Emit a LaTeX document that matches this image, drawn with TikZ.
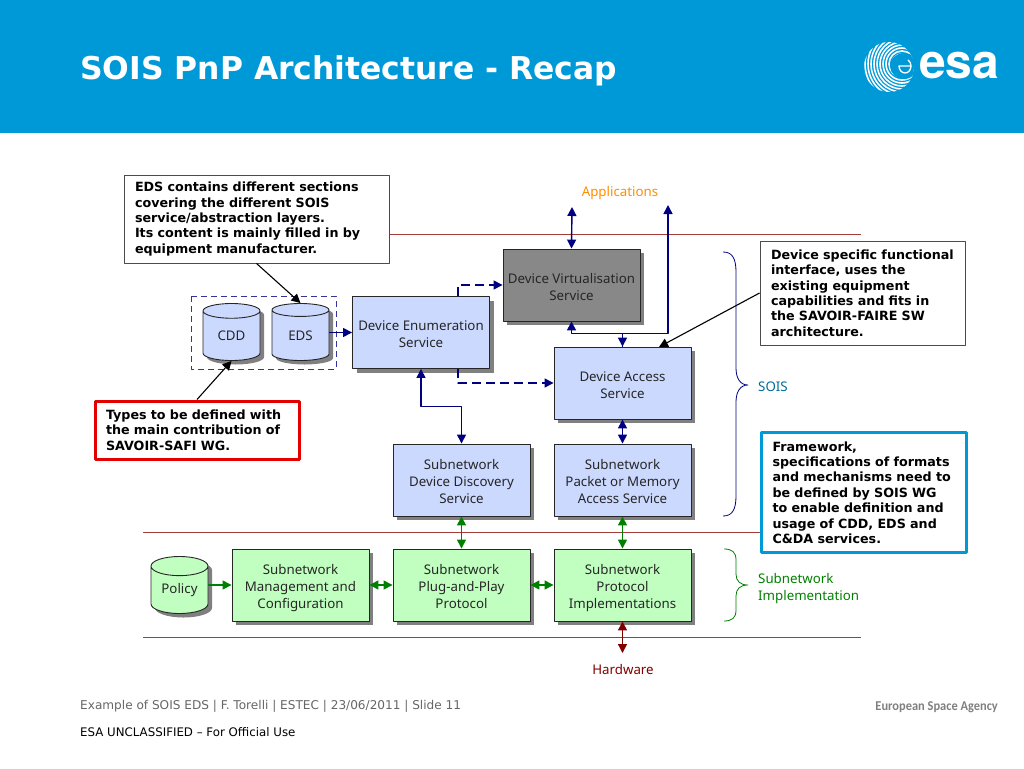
\documentclass[tikz,border=0pt]{standalone}
\usepackage{fontspec}
\setmainfont{DejaVu Sans}
\newfontfamily\boxfont{Noto Sans}
\newfontfamily\logofont{TeX Gyre Heros}
\newfontfamily\agencyfont{Carlito}
\usetikzlibrary{arrows.meta,shadows,shapes.geometric,calc}
\definecolor{esablue}{RGB}{0,153,216}
\definecolor{svcblue}{RGB}{204,217,255}
\definecolor{svcgreen}{RGB}{193,255,193}
\definecolor{svcgray}{RGB}{136,136,136}
\definecolor{linkblue}{RGB}{0,0,128}
\definecolor{linkgreen}{RGB}{0,128,0}
\definecolor{linkred}{RGB}{128,0,0}
\definecolor{layerline}{RGB}{165,60,60}
\tikzset{
  boxshadow/.style={drop shadow={shadow xshift=4pt,shadow yshift=-4pt,fill=black!50,opacity=1}},
  svc/.style={draw=black!85,line width=.9pt,boxshadow,minimum width=137pt,minimum height=72pt,
    align=center,inner sep=0pt,font=\boxfont\fontsize{13.3}{17}\selectfont,text=black!85},
  svctwo/.style={svc,execute at begin node={\rule[-3.5pt]{0pt}{37pt}}},
  svcthree/.style={svc,execute at begin node={\rule[-3.5pt]{0pt}{54pt}}},
  store/.style={cylinder,shape border rotate=90,aspect=.53,draw=black!85,line width=.9pt,boxshadow,
    anchor=shape center,minimum width=57pt,minimum height=57pt,inner sep=0pt,
    font=\boxfont\fontsize{13.3}{17}\selectfont,text=black!85},
  note/.style={draw=black!70,fill=white,line width=.9pt,align=left,inner xsep=11pt,inner ysep=0pt,
    font=\bfseries\fontsize{12.7}{15.4}\selectfont,text=black},
  layer/.style={layerline,line width=1pt},
  tag/.style={inner sep=0pt,font=\boxfont\fontsize{13.3}{17}\selectfont},
  link/.style={linkblue,line width=1.4pt,>={Triangle[length=9pt,width=9pt]}},
  linkdash/.style={link,dash pattern=on 9pt off 5pt},
  linkg/.style={link,linkgreen},
  linkr/.style={link,linkred},
  pointer/.style={-{Triangle[length=9pt,width=9pt]},line width=1.1pt}
}
\begin{document}
\begin{tikzpicture}[x=1pt,y=-1pt,line join=round]
	\useasboundingbox (0,0) rectangle (1024,768);
	%Header
	\fill[esablue] (0,0) rectangle (1024,133);
	\node[anchor=west,inner sep=0pt,text=white,font=\bfseries\fontsize{31.4}{36}\selectfont] (title) at (80,71) {SOIS PnP Architecture - Recap};
	%Logo
	\begin{scope}
		\clip (889,67) circle (25);
		\foreach \r in {4,7,...,43} \draw[white,line width=1.6pt] (902,64) circle (\r);
		\fill[esablue] (904,66) ellipse (14 and 13);
	\end{scope}
	\draw[white,line width=1.3pt] (911,66)--(899,66) arc (180:-60:6 and 7);
	\node[anchor=west,inner sep=0pt,text=white,font=\logofont\bfseries\fontsize{48}{48}\selectfont] (logo) at (919,66) {esa};
	%Layer lines
	\draw[layer] (389,234)--(861,234);
	\draw[layer] (143,532)--(861,532);
	\draw[layer] (143,637)--(861,637);
	%Dashed frame
	\draw[linkblue!80,dash pattern=on 6pt off 4pt,line width=.9pt] (191,296) rectangle (336,369);
	%Stores
	\node[store,fill=svcblue] (cdd) at (231.5,332) {CDD};
	\node[store,fill=svcblue] (eds) at (300.5,332) {EDS};
	\node[store,fill=svcgreen] (policy) at (179.5,585) {Policy};
	%Services
	\node[svctwo,fill=svcblue] (enum) at (421,332.5) {Device Enumeration\\Service};
	\node[svctwo,fill=svcgray] (virt) at (571.5,285) {Device Virtualisation\\Service};
	\node[svctwo,fill=svcblue] (access) at (622.5,383) {Device Access\\Service};
	\node[svcthree,fill=svcblue] (disc) at (461.5,480) {Subnetwork\\Device Discovery\\Service};
	\node[svcthree,fill=svcblue] (packet) at (622.5,480) {Subnetwork\\Packet or Memory\\Access Service};
	\node[svcthree,fill=svcgreen] (mgmt) at (300.5,585) {Subnetwork\\Management and\\Configuration};
	\node[svcthree,fill=svcgreen] (pnp) at (461.5,585) {Subnetwork\\Plug-and-Play\\Protocol};
	\node[svcthree,fill=svcgreen] (proto) at (622.5,585) {Subnetwork\\Protocol\\Implementations};
	%Labels
	\node[tag,text=orange!90!yellow] (apps) at (620,193) {Applications};
	\node[tag,text=linkred] (hw) at (623,670) {Hardware};
	\node[tag,anchor=west,text=black!30!esablue] (sois) at (758,387) {SOIS};
	\node[tag,anchor=west,align=left,text=linkgreen] (impl) at (758,589) {Subnetwork\\Implementation};
	%Notes
	\node[note,text width=243pt,minimum height=88pt] (edsnote) at (256.5,219) {EDS contains different sections\\covering the different SOIS\\service/abstraction layers.\\Its content is mainly filled in by\\equipment manufacturer.};
	\node[note,draw=red!90!black,line width=3pt,text width=182pt,minimum height=58pt] (typesnote) at (197,430) {Types to be defined with\\the main contribution of\\SAVOIR-SAFI WG.};
	\node[note,text width=183pt,minimum height=104pt] (devnote) at (862.5,293) {Device specific functional\\interface, uses the\\existing equipment\\capabilities and fits in\\the SAVOIR-FAIRE SW\\architecture.};
	\node[note,draw=esablue,line width=3pt,text width=183pt,minimum height=120pt] (fwnote) at (864,492.5) {Framework,\\specifications of formats\\and mechanisms need to\\be defined by SOIS WG\\to enable definition and\\usage of CDD, EDS and\\C\&DA services.};
	%Free ends
	\coordinate (appsin) at (572,207);
	\coordinate (appsout) at (668,205);
	\coordinate (hwend) at (622.5,653);
	\coordinate (devend) at (659,347);
	%Connectors
	\draw[pointer] (edsnote.south)--(eds.north);
	\draw[pointer] (typesnote.north)--(cdd.south);
	\draw[pointer] (devnote.west)--(devend);
	\draw[link,->] (eds.east |- enum.west)--(enum.west);
	\draw[linkdash,->] ($(enum.north)+(37,0)$) |- (virt.west);
	\draw[linkdash,->] ($(enum.south)+(37,0)$) |- (access.west);
	\draw[link,<->] (enum.south) |- ($(enum.south)!.5!(disc.north)$) -| (disc.north);
	\draw[link,<->] (access.north) |- ($(virt.south)+(0,12)$) -- (virt.south);
	\draw[link,->] (access.north) |- ($(virt.south)+(96.5,12)$) -- (appsout);
	\draw[link,<->] (appsin)--(virt.north);
	\draw[link,<->] (access.south)--(packet.north);
	\draw[linkg,<->] (disc.south)--(pnp.north);
	\draw[linkg,<->] (packet.south)--(proto.north);
	\draw[linkg,->] (policy.east |- mgmt.west)--(mgmt.west);
	\draw[linkg,<->] (mgmt.east)--(pnp.west);
	\draw[linkg,<->] (pnp.east)--(proto.west);
	\draw[linkr,<->] (proto.south)--(hwend);
	%Braces
	\draw[linkblue,line width=.8pt] (723,252) .. controls (732,252) and (736,258) .. (736,272) -- (736,368) .. controls (736,378) and (740,385) .. (748,385) .. controls (740,385) and (736,392) .. (736,402) -- (736,496) .. controls (736,510) and (732,516) .. (723,516);
	\draw[linkgreen,line width=.8pt] (724,549) .. controls (732,549) and (736,552) .. (736,560) -- (736,574) .. controls (736,581) and (740,585) .. (748,585) .. controls (740,585) and (736,589) .. (736,596) -- (736,610) .. controls (736,618) and (732,621) .. (724,621);
	%Footer
	\node[anchor=west,inner sep=0pt,text=black!60,font=\fontsize{12.1}{14}\selectfont] (foot) at (80,706) {Example of SOIS EDS | F. Torelli | ESTEC | 23/06/2011 | Slide 11};
	\node[anchor=west,inner sep=0pt,text=black,font=\fontsize{11.8}{14}\selectfont] (class) at (80,732) {ESA UNCLASSIFIED – For Official Use};
	\node[anchor=east,inner sep=0pt,xscale=.92,text=black!50,font=\agencyfont\bfseries\fontsize{13.5}{14}\selectfont] (agency) at (998,707) {European Space Agency};
\end{tikzpicture}
\end{document}
